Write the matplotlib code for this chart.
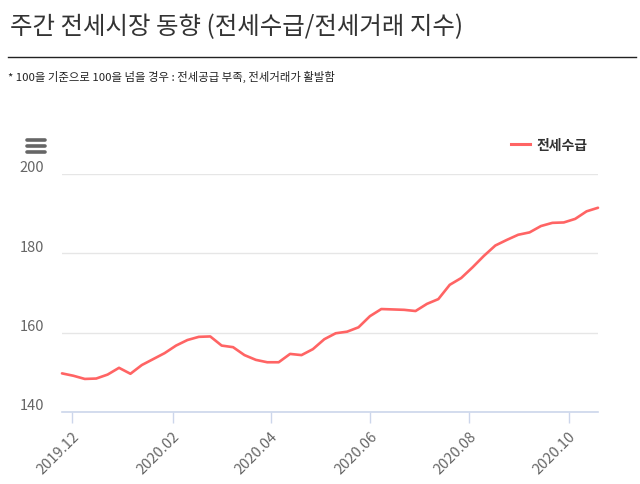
import matplotlib
matplotlib.use("Agg")
import matplotlib.pyplot as plt
import matplotlib.dates as mdates
from matplotlib.lines import Line2D
from matplotlib.transforms import ScaledTranslation
import numpy as np
import pandas as pd

plt.rcParams['font.family'] = ['Noto Sans CJK KR', 'DejaVu Sans']

title = "주간 전세시장 동향 (전세수급/전세거래 지수)"
subtitle = "* 100을 기준으로 100을 넘을 경우 : 전세공급 부족, 전세거래가 활발함"
series_name = "전세수급"

dates = pd.date_range("2019-11-25", "2020-10-19", freq="7D")
values = [149.8, 149.2, 148.4, 148.5, 149.5, 151.2, 149.7, 151.9, 153.4, 154.9,
          156.8, 158.2, 159.0, 159.1, 156.8, 156.4, 154.4, 153.2, 152.6, 152.6,
          154.7, 154.4, 155.9, 158.4, 159.9, 160.3, 161.4, 164.2, 166.0, 165.9,
          165.8, 165.5, 167.3, 168.5, 172.1, 173.8, 176.5, 179.4, 182.0, 183.4,
          184.7, 185.3, 186.9, 187.7, 187.8, 188.7, 190.6, 191.5]
y_ticks = [140, 160, 180, 200]

W, H = 640, 485
fig = plt.figure(figsize=(W / 100, H / 100), dpi=100)
ax = fig.add_axes([62 / W, 1 - 413.3 / H, (598 - 62) / W, (413.3 - 175) / H])

ax.plot(dates, values, color="#ff6464", lw=1.9, solid_joinstyle="round",
        solid_capstyle="round", clip_on=False)

ax.set_xlim(dates[0], dates[-1])
ax.set_ylim(140, 200)
ax.set_yticks(y_ticks)
ax.yaxis.grid(True, color="#e6e6e6", lw=1)
ax.set_axisbelow(True)
ax.tick_params(axis="y", length=0, labelsize=10.5, labelcolor="#666666", pad=13)
for lab in ax.get_yticklabels():
    lab.set_transform(lab.get_transform() + ScaledTranslation(0, 6 / 72, fig.dpi_scale_trans))

ax.xaxis.set_major_locator(mdates.MonthLocator(bymonth=[2, 4, 6, 8, 10, 12]))
ax.xaxis.set_major_formatter(mdates.DateFormatter("%Y.%m"))
ax.tick_params(axis="x", length=8, width=1, color="#ccd6eb", labelsize=10.5,
               labelcolor="#666666", pad=4)
for lab in ax.get_xticklabels():
    lab.set_rotation(45)
    lab.set_ha("right")
    lab.set_va("top")
    lab.set_rotation_mode("anchor")

for s in ["top", "right", "left"]:
    ax.spines[s].set_visible(False)
ax.spines["bottom"].set_color("#ccd6eb")
ax.spines["bottom"].set_linewidth(1.2)

# title, rule, subtitle
fig.text(10 / W, 1 - 27 / H, title, fontsize=17.6, color="#333333", va="center", ha="left")
fig.add_artist(Line2D([8 / W, 636 / W], [1 - 58 / H, 1 - 58 / H], color="#222222", lw=1,
                      transform=fig.transFigure))
fig.text(8 / W, 1 - 77 / H, subtitle, fontsize=8.2, color="#222222", va="center", ha="left")

# menu icon
for yy in [141, 147, 153]:
    fig.add_artist(Line2D([27 / W, 45 / W], [1 - yy / H, 1 - yy / H], color="#666666", lw=2.6,
                          solid_capstyle="round", transform=fig.transFigure))

# legend
fig.legend([Line2D([], [], color="#ff6464", lw=2.2)], [series_name],
           loc="center left", bbox_to_anchor=(505 / W, 1 - 146 / H), frameon=False,
           handlelength=1.4, handletextpad=0.5, borderaxespad=0,
           prop={"size": 10, "weight": "bold"}, labelcolor="#333333")

fig.savefig("out.png", dpi=100)
